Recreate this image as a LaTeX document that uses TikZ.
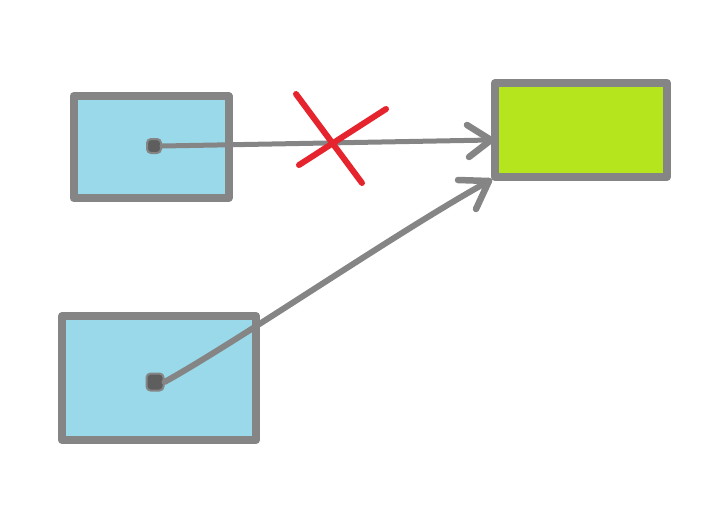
\documentclass[tikz,border=0pt]{standalone}
\usetikzlibrary{positioning}
\definecolor{boxblue}{HTML}{99D9EA}
\definecolor{boxgreen}{HTML}{B5E61D}
\definecolor{pen}{HTML}{858585}
\definecolor{dotc}{HTML}{5E5E5E}
\definecolor{crossred}{HTML}{E6242D}
\tikzset{
  sketchbox/.style={draw=pen, line width=8pt, line join=round, inner sep=0pt},
  dotnode/.style={draw=pen, fill=dotc, line width=2pt, rounded corners=4pt, minimum size=12pt, inner sep=0pt},
  conn/.style={draw=pen, line width=6.5pt, line cap=round, line join=round},
  crossline/.style={draw=crossred, line width=6pt, line cap=round}
}
\begin{document}
\begin{tikzpicture}[x=1pt,y=-1pt]
\useasboundingbox (0,0) rectangle (720,528);
% boxes
\node[sketchbox, fill=boxblue, minimum width=155pt, minimum height=102pt] (a) at (151,147) {};
\node[sketchbox, fill=boxblue, minimum width=194pt, minimum height=124pt] (b) at (159,378) {};
\node[sketchbox, fill=boxgreen, minimum width=172pt, minimum height=94pt] (g) at (581,130) {};
% dots
\node[dotnode, minimum size=14pt] (da) at (154,146) {};
\node[dotnode, minimum size=17pt] (db) at (155,382) {};
% arrow targets
\coordinate (ta) at ([yshift=-10pt]g.west);
\coordinate (tb) at ([xshift=-2pt,yshift=0pt]g.south west);
% connectors
\draw[conn, line width=5pt] (da.east) -- (ta);
\draw[conn] (ta) -- ++(-24,-15);
\draw[conn] (ta) -- ++(-22,17);
\draw[conn, line width=6pt] (db.east) .. controls (240,340) and (400,230) .. (tb);
\draw[conn] (tb) -- ++(-31,-1);
\draw[conn] (tb) -- ++(-13,28);
% red cross
\draw[crossline] (296,94) -- (362,183);
\draw[crossline] (386,109) -- (299,165);
\end{tikzpicture}
\end{document}
